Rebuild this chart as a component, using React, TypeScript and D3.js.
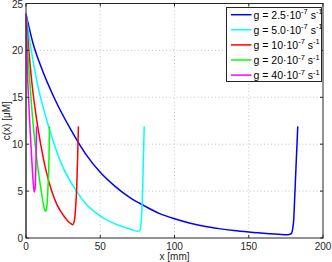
import React, { useEffect, useRef } from "react";
import * as d3 from "d3";

// values
const blueX = [0, 5, 10, 20, 30, 40, 50, 60, 70, 80, 90, 100, 110, 120, 130, 140, 150, 160, 170, 176, 178.5, 179.5, 180.3, 181, 181.8, 182.5, 183];
const blueY = [23.9, 20.6, 18.3, 14.6, 11.6, 9.0, 7.0, 5.5, 4.3, 3.4, 2.6, 2.05, 1.6, 1.25, 1.0, 0.8, 0.64, 0.5, 0.4, 0.35, 0.45, 0.9, 2.0, 4.5, 7.5, 10, 11.9];

const cyanX = [0, 3, 8, 13, 19, 25, 34, 40, 50, 60, 70, 75, 76.5, 77.5, 78.3, 79, 79.6];
const cyanY = [23.9, 20.5, 16.2, 13.1, 10.0, 7.5, 5.0, 3.7, 2.35, 1.5, 0.95, 0.72, 0.78, 1.6, 4, 8, 11.9];

const redX = [0, 1.5, 4, 7, 10, 13, 17.3, 21, 25, 28, 30.5, 31.4, 32.5, 33.3, 34.1, 34.7, 35.3];
const redY = [23.9, 20.8, 16.5, 12.8, 9.9, 7.5, 5.0, 3.5, 2.45, 1.85, 1.5, 1.42, 1.8, 3.0, 5.2, 8.2, 11.9];

const greenX = [0, 1, 2.5, 4, 5.5, 7, 8.5, 10.3, 11.5, 12.5, 13.2, 14, 14.7, 15.3, 15.6, 15.8];
const greenY = [23.9, 20.5, 16.8, 13.6, 11.0, 8.8, 6.9, 5.0, 3.8, 3.0, 2.85, 3.3, 5.0, 7.5, 9.5, 11.9];

const magentaX = [0, 0.5, 1, 1.7, 2.5, 3.3, 4.1, 4.9, 5.6, 6.1, 6.5, 6.8, 7.1];
const magentaY = [23.9, 20.5, 17.5, 15, 12.3, 10, 7.8, 5.8, 4.9, 5.3, 6.8, 9, 11.9];

const wallX = [0, 0];
const wallY = [0, 23.9];

const seriesNames = ["2.5", "5.0", "10", "20", "40"];
const seriesColors = ["#0000ff", "#00ffff", "#ff0000", "#00ff00", "#ff00ff"];

const xTicks = [0, 50, 100, 150, 200];
const yTicks = [0, 5, 10, 15, 20, 25];

export default function App() {
  const ref = useRef(null);

  useEffect(() => {
    const root = d3.select(ref.current);
    root.selectAll("*").remove();
    const width = 332;
    const height = 262;
    const margin = { top: 3.5, left: 26, bottom: 24, right: 9 };
    const iwidth = width - margin.left - margin.right;
    const iheight = height - margin.top - margin.bottom;
    const font = "'Liberation Sans', Arial, sans-serif";

    const svg = root
      .append("svg")
      .attr("width", width)
      .attr("height", height)
      .style("position", "absolute")
      .style("left", "0px")
      .style("top", "0px")
      .style("background", "#fff");

    const g = svg
      .append("g")
      .attr("transform", `translate(${margin.left},${margin.top})`);

    const x = d3.scaleLinear().domain([0, 200]).range([0, iwidth]);
    const y = d3.scaleLinear().domain([0, 25]).range([iheight, 0]);

    // grid
    g.selectAll(".gx")
      .data(xTicks.slice(1, -1))
      .enter()
      .append("line")
      .attr("x1", (d) => x(d))
      .attr("x2", (d) => x(d))
      .attr("y1", 0)
      .attr("y2", iheight)
      .attr("stroke", "#b8b8b8")
      .attr("stroke-width", 0.8)
      .attr("stroke-dasharray", "1,2.5");
    g.selectAll(".gy")
      .data(yTicks.slice(1, -1))
      .enter()
      .append("line")
      .attr("x1", 0)
      .attr("x2", iwidth)
      .attr("y1", (d) => y(d))
      .attr("y2", (d) => y(d))
      .attr("stroke", "#b8b8b8")
      .attr("stroke-width", 0.8)
      .attr("stroke-dasharray", "1,2.5");

    const line = d3
      .line<[number, number]>()
      .x((d) => x(d[0]))
      .y((d) => y(d[1]))
      .curve(d3.curveMonotoneX);

    g.append("path")
      .attr("d", d3.line<[number, number]>().x((d) => x(d[0])).y((d) => y(d[1]))(wallX.map((v, i) => [v, wallY[i]])))
      .attr("stroke", "#8c8c8c")
      .attr("stroke-width", 1.6)
      .attr("fill", "none");

    const series = [
      [blueX, blueY],
      [cyanX, cyanY],
      [redX, redY],
      [greenX, greenY],
      [magentaX, magentaY],
    ];
    series.forEach(([xs, ys], i) => {
      g.append("path")
        .attr("d", line(xs.map((v, j) => [v, ys[j]] as [number, number])))
        .attr("stroke", seriesColors[i])
        .attr("stroke-width", 1.5)
        .attr("fill", "none");
    });

    // frame
    g.append("rect")
      .attr("width", iwidth)
      .attr("height", iheight)
      .attr("fill", "none")
      .attr("stroke", "#262626")
      .attr("stroke-width", 1);

    // inward ticks
    xTicks.forEach((t) => {
      g.append("line").attr("x1", x(t)).attr("x2", x(t)).attr("y1", iheight).attr("y2", iheight - 3).attr("stroke", "#262626");
      g.append("line").attr("x1", x(t)).attr("x2", x(t)).attr("y1", 0).attr("y2", 3).attr("stroke", "#262626");
      g.append("text")
        .attr("x", x(t))
        .attr("y", iheight + 12)
        .attr("text-anchor", "middle")
        .style("font-family", font)
        .style("font-size", "10px")
        .attr("fill", "#262626")
        .text(t);
    });
    yTicks.forEach((t) => {
      g.append("line").attr("x1", 0).attr("x2", 3).attr("y1", y(t)).attr("y2", y(t)).attr("stroke", "#262626");
      g.append("line").attr("x1", iwidth).attr("x2", iwidth - 3).attr("y1", y(t)).attr("y2", y(t)).attr("stroke", "#262626");
      g.append("text")
        .attr("x", -3)
        .attr("y", y(t) + 4)
        .attr("text-anchor", "end")
        .style("font-family", font)
        .style("font-size", "10px")
        .attr("fill", "#262626")
        .text(t);
    });

    svg
      .append("text")
      .attr("x", margin.left + iwidth / 2)
      .attr("y", height - 2)
      .attr("text-anchor", "middle")
      .style("font-family", font)
      .style("font-size", "10px")
      .attr("fill", "#262626")
      .text("x [mm]");

    svg
      .append("text")
      .attr("transform", `translate(10,${margin.top + iheight / 2}) rotate(-90)`)
      .attr("text-anchor", "middle")
      .style("font-family", font)
      .style("font-size", "10px")
      .attr("fill", "#262626")
      .text("c(x) [\u03bcM]");

    // legend
    const lg = svg.append("g").attr("transform", "translate(226.5,7.5)");
    lg.append("rect")
      .attr("width", 95)
      .attr("height", 74)
      .attr("fill", "#fff")
      .attr("stroke", "#262626")
      .attr("stroke-width", 1);
    seriesNames.forEach((name, i) => {
      const ly = 7.2 + i * 15.1;
      lg.append("line")
        .attr("x1", 4.5)
        .attr("x2", 25)
        .attr("y1", ly)
        .attr("y2", ly)
        .attr("stroke", seriesColors[i])
        .attr("stroke-width", 1.5);
      const t = lg
        .append("text")
        .attr("x", 27)
        .attr("y", ly + 4)
        .style("font-family", font)
        .style("font-size", "10.5px")
        .attr("fill", "#000");
      t.append("tspan").text(`g = ${name}\u00b710`);
      t.append("tspan").attr("dy", -4.5).style("font-size", "7.5px").text("-7");
      t.append("tspan").attr("dy", 4.5).text(" s");
      t.append("tspan").attr("dy", -4.5).style("font-size", "7.5px").text("-1");
    });
  }, []);

  return <div ref={ref}></div>;
}
